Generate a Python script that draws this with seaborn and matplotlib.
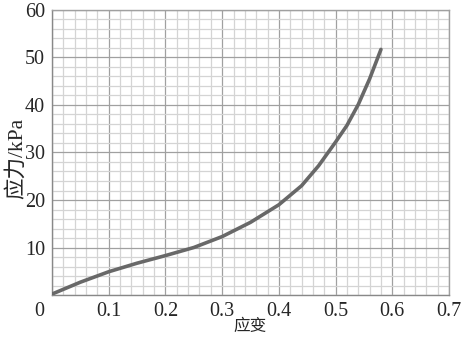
import numpy as np
import matplotlib
matplotlib.use('Agg')
import matplotlib.pyplot as plt
import matplotlib.transforms as mtransforms
import seaborn as sns
from matplotlib.ticker import MultipleLocator

# 数据
strain = [0.0, 0.05, 0.10, 0.15, 0.20, 0.25, 0.30, 0.35, 0.40, 0.44, 0.47, 0.50, 0.52, 0.54, 0.56, 0.58]
stress = [0.2, 2.7, 4.9, 6.7, 8.3, 10.0, 12.3, 15.3, 19.0, 23.0, 27.2, 32.2, 35.7, 40.1, 45.5, 51.7]
x_ticks = [0, 0.1, 0.2, 0.3, 0.4, 0.5, 0.6, 0.7]
x_labels = ['0', '0.1', '0.2', '0.3', '0.4', '0.5', '0.6', '0.7']
y_ticks = [10, 20, 30, 40, 50, 60]

sns.set_style('white')
plt.rcParams['font.family'] = ['Liberation Serif', 'Noto Sans CJK SC']

fig = plt.figure(figsize=(4.75, 3.44), dpi=100)
ax = fig.add_axes([0.1095, 0.1424, 0.8358, 0.8286])

sns.lineplot(x=strain, y=stress, ax=ax, color='#686868', linewidth=2.6,
             zorder=5, sort=False)

ax.set_xlim(0, 0.7)
ax.set_ylim(0, 60)
ax.xaxis.set_minor_locator(MultipleLocator(0.02))
ax.yaxis.set_minor_locator(MultipleLocator(2))
ax.set_xticks(x_ticks)
ax.set_xticklabels(x_labels)
ax.set_yticks(y_ticks)

ax.grid(which='major', color='#a0a0a0', linewidth=0.9)
ax.grid(which='minor', color='#d4d4d4', linewidth=0.9)
ax.set_axisbelow(True)

for s in ax.spines.values():
    s.set_color('#a0a0a0')
    s.set_linewidth(1.0)
ax.spines['left'].set_color('#888888')
ax.spines['bottom'].set_color('#888888')

ax.tick_params(which='major', direction='out', length=4, width=0.8,
               color='#888888', labelsize=14.5)
ax.tick_params(which='minor', length=0)
ax.tick_params(axis='y', pad=1)
ax.tick_params(axis='x', pad=1)

# 原点 "0" 向左偏移
lab0 = ax.get_xticklabels()[0]
lab0.set_transform(lab0.get_transform() +
                   mtransforms.ScaledTranslation(-9 / 72, 0, fig.dpi_scale_trans))

ax.set_xlabel('应变', fontsize=12)
ax.xaxis.set_label_coords(0.5, -0.083)
ax.set_ylabel('应力/kPa', fontsize=15.5)
ax.yaxis.set_label_coords(-0.064, 0.48)

fig.savefig('out.png', dpi=100)
